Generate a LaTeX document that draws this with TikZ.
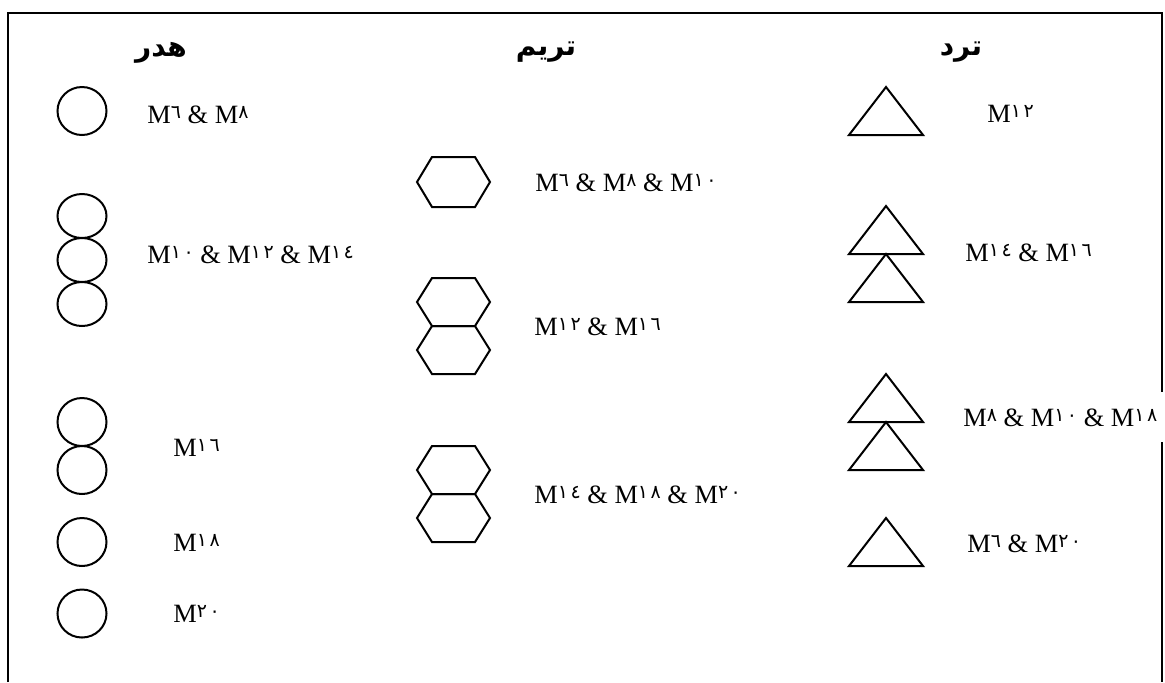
\documentclass[tikz,border=0pt]{standalone}
\usepackage{fontspec}
\setmainfont{Liberation Serif}
\newfontfamily\arabicfont[Script=Arabic]{DejaVu Sans}
\newfontfamily\digfont[LetterSpace=13]{DejaVu Sans}
\TeXXeTstate=1
% Arabic-Indic digits, set small and raised as in the label font
\newcommand\dg[1]{\raisebox{2.4pt}{\digfont\fontsize{9.5}{11}\selectfont#1}}
\newcommand\ar[1]{{\arabicfont\bfseries\beginR #1\endR}}
\tikzset{
  shapeline/.style={line width=1pt, black},
  frameline/.style={line width=1pt, black},
  lbl/.style={anchor=base west, inner sep=0pt, font=\fontsize{13.2}{16}\selectfont},
  head/.style={inner sep=0pt, font=\fontsize{14}{16}\selectfont},
  pics/ring/.style={code={\draw[shapeline] (0,0) ellipse [x radius=24.5, y radius=#1];}},
  pics/hexa/.style={code={\draw[shapeline] (-36.5,0) -- (-21.5,-#1) -- (21.5,-#1) -- (36.5,0)
     -- (21.5,#1) -- (-21.5,#1) -- cycle;}},
  pics/tri/.style={code={\draw[shapeline] (0,-24) -- (37,24) -- (-37,24) -- cycle;}}
}
\begin{document}
\begin{tikzpicture}[x=0.5pt, y=-0.5pt]
\useasboundingbox (0,0) rectangle (1165,682);

% outer frame (open at the bottom)
\draw[frameline] (8,682) -- (8,13) -- (1162,13) -- (1162,682);

% column headings
\node[head] (hHeader) at (161,53) {\ar{هدر}};
\node[head] (hTrim) at (546,52) {\ar{تريم}};
\node[head] (hTrd) at (961,52) {\ar{ترد}};

% circles
\pic at (82,111) {ring=24};
\pic at (82,216) {ring=22};
\pic at (82,260) {ring=22};
\pic at (82,304) {ring=22};
\pic at (82,422) {ring=24};
\pic at (82,470) {ring=24};
\pic at (82,542) {ring=24};
\pic at (82,613.5) {ring=24};

\node[lbl] (c1) at (147,123) {M\dg{٦} \& M\dg{٨}};
\node[lbl] (c2) at (147,263) {M\dg{١٠} \& M\dg{١٢} \& M\dg{١٤}};
\node[lbl] (c3) at (173,456) {M\dg{١٦}};
\node[lbl] (c4) at (173,551) {M\dg{١٨}};
\node[lbl] (c5) at (173,622) {M\dg{٢٠}};

% hexagons
\pic at (453.5,182) {hexa=25};
\pic at (453.5,302) {hexa=24};
\pic at (453.5,350) {hexa=24};
\pic at (453.5,470) {hexa=24};
\pic at (453.5,518) {hexa=24};

\node[lbl] (h1) at (535,191) {M\dg{٦} \& M\dg{٨} \& M\dg{١٠}};
\node[lbl] (h2) at (534,335) {M\dg{١٢} \& M\dg{١٦}};
\node[lbl] (h3) at (534,503) {M\dg{١٤} \& M\dg{١٨} \& M\dg{٢٠}};

% triangles
\pic at (886,111) {tri};
\pic at (886,230) {tri};
\pic at (886,278) {tri};
\pic at (886,398) {tri};
\pic at (886,446) {tri};
\pic at (886,542) {tri};

\node[lbl] (t1) at (987,122) {M\dg{١٢}};
\node[lbl] (t2) at (965,261) {M\dg{١٤} \& M\dg{١٦}};
\node[lbl, fill=white, inner ysep=8pt, inner xsep=3pt] (t3) at (957,426) {M\dg{٨} \& M\dg{١٠} \& M\dg{١٨}};
\node[lbl] (t4) at (967,552) {M\dg{٦} \& M\dg{٢٠}};
\end{tikzpicture}
\end{document}
